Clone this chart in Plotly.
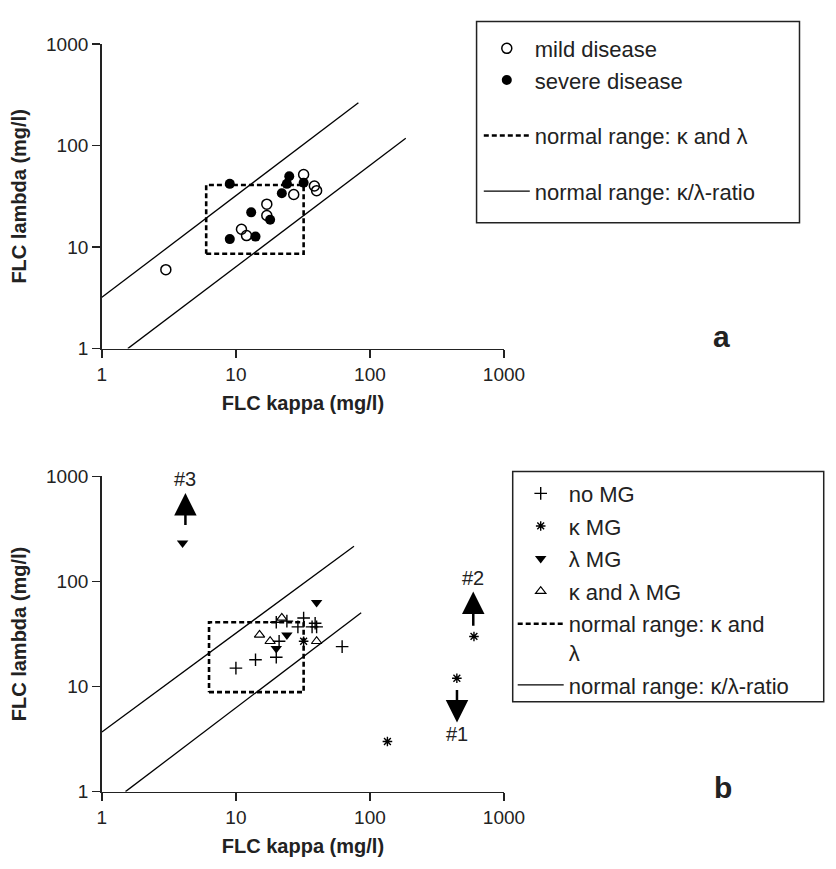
import numpy as np
import plotly.graph_objects as go

# ---------------- data: panel a ----------------
a_mild_kappa = [3, 11, 12, 17, 17, 27, 32, 38.5, 40]
a_mild_lambda = [6, 15, 13, 26.5, 20.5, 33, 52, 40, 36]
a_severe_kappa = [9, 9, 13, 14, 18, 22, 24, 25, 32]
a_severe_lambda = [42, 12, 22, 12.7, 18.6, 34, 42, 50, 43]
a_box_kappa = [6.0, 32.0]
a_box_lambda = [8.6, 41.0]
a_upper_kappa = [1.0, 82.0]
a_upper_lambda = [3.2, 265.0]
a_lower_kappa = [1.56, 185.0]
a_lower_lambda = [1.0, 118.0]

# ---------------- data: panel b ----------------
b_nomg_kappa = [10, 14, 20, 21, 20, 24, 32, 29, 39, 40, 37, 62]
b_nomg_lambda = [15, 18, 19, 27, 41, 42, 45, 37, 40, 37, 37, 24]
b_kmg_kappa = [32, 135, 445, 597]
b_kmg_lambda = [27, 3, 12, 30]
b_lmg_kappa = [4, 20, 24, 40]
b_lmg_lambda = [233, 23, 31, 63]
b_klmg_kappa = [15, 18, 22, 40]
b_klmg_lambda = [31, 27, 45, 27]
b_box_kappa = [6.3, 32.0]
b_box_lambda = [8.85, 41.0]
b_upper_kappa = [1.0, 76.0]
b_upper_lambda = [3.7, 217.0]
b_lower_kappa = [1.5, 86.0]
b_lower_lambda = [1.0, 50.5]

arrow_labels = ["#1", "#2", "#3"]
arrow_kappa = [446, 590, 4.2]
arrow_tail_lambda = [9.6, 36.8, 333]
arrow_tip_lambda = [4.56, 80.5, 694]
arrow_label_lambda = [3.5, 109, 955]

tick_vals = [1, 10, 100, 1000]
tick_text = ["1", "10", "100", "1000"]

FONT = "Liberation Sans, Arial, Helvetica, sans-serif"
INK = "#222"
W, H = 836, 869


def px_x(p):
    return p / W


def px_y(p):
    return 1 - p / H


def box_xy(k, l):
    return [k[0], k[1], k[1], k[0], k[0]], [l[0], l[0], l[1], l[1], l[0]]


def ratio_xy(uk, ul, lk, ll):
    return uk + [None] + lk, ul + [None] + ll


fig = go.Figure()

# ---- panel a ----
bx, by = box_xy(a_box_kappa, a_box_lambda)
rx, ry = ratio_xy(a_upper_kappa, a_upper_lambda, a_lower_kappa, a_lower_lambda)
fig.add_trace(go.Scatter(x=rx, y=ry, mode="lines", name="normal range: κ/λ-ratio",
                         line=dict(color="black", width=1.3), legend="legend",
                         legendrank=4, legendgroup="a3", xaxis="x", yaxis="y"))
fig.add_trace(go.Scatter(x=bx, y=by, mode="lines", name="normal range: κ and λ",
                         line=dict(color="black", width=2.6, dash="5px,3px"), legend="legend",
                         legendrank=3, legendgroup="a2", xaxis="x", yaxis="y"))
fig.add_trace(go.Scatter(x=a_mild_kappa, y=a_mild_lambda, mode="markers", name="mild disease",
                         marker=dict(symbol="circle-open", size=10, color="black", line=dict(width=1.5)),
                         legend="legend", legendrank=1, legendgroup="a1", xaxis="x", yaxis="y"))
fig.add_trace(go.Scatter(x=a_severe_kappa, y=a_severe_lambda, mode="markers", name="severe disease",
                         marker=dict(symbol="circle", size=10, color="black"),
                         legend="legend", legendrank=2, legendgroup="a1", xaxis="x", yaxis="y"))

# ---- panel b ----
bx, by = box_xy(b_box_kappa, b_box_lambda)
rx, ry = ratio_xy(b_upper_kappa, b_upper_lambda, b_lower_kappa, b_lower_lambda)
fig.add_trace(go.Scatter(x=rx, y=ry, mode="lines", name="normal range: κ/λ-ratio",
                         line=dict(color="black", width=1.3), legend="legend2",
                         legendrank=6, legendgroup="b6", xaxis="x2", yaxis="y2"))
fig.add_trace(go.Scatter(x=bx, y=by, mode="lines", name="normal range: κ and<br>λ",
                         line=dict(color="black", width=2.6, dash="5px,3px"), legend="legend2",
                         legendrank=5, legendgroup="b5", xaxis="x2", yaxis="y2"))
fig.add_trace(go.Scatter(x=b_nomg_kappa, y=b_nomg_lambda, mode="markers", name="no MG",
                         marker=dict(symbol="cross-thin-open", size=9, color="black", line=dict(width=1.4, color="black")),
                         legend="legend2", legendrank=1, legendgroup="b1", xaxis="x2", yaxis="y2"))
fig.add_trace(go.Scatter(x=b_kmg_kappa, y=b_kmg_lambda, mode="markers", name="κ MG",
                         marker=dict(symbol="asterisk-open", size=8, color="black", line=dict(width=1.4, color="black")),
                         legend="legend2", legendrank=2, legendgroup="b2", xaxis="x2", yaxis="y2"))
fig.add_trace(go.Scatter(x=b_lmg_kappa, y=b_lmg_lambda, mode="markers", name="λ MG",
                         marker=dict(symbol="triangle-down", size=10, color="black"),
                         legend="legend2", legendrank=3, legendgroup="b3", xaxis="x2", yaxis="y2"))
fig.add_trace(go.Scatter(x=b_klmg_kappa, y=b_klmg_lambda, mode="markers", name="κ and λ MG",
                         marker=dict(symbol="triangle-up-open", size=9, color="black", line=dict(width=1.2)),
                         legend="legend2", legendrank=4, legendgroup="b4", xaxis="x2", yaxis="y2"))

# ---- axes ----
common_axis = dict(type="log", range=[0, 3], showline=True, linecolor=INK, linewidth=1.8,
                   ticks="outside", ticklen=8, tickwidth=1.5, tickcolor=INK,
                   tickvals=tick_vals, ticktext=tick_text, showgrid=False, zeroline=False,
                   tickfont=dict(family=FONT, size=19, color=INK), mirror=False)

xdom = [px_x(100), px_x(515)]
title_font = dict(family=FONT, size=20, color=INK)
fig.update_layout(
    xaxis=dict(common_axis, domain=xdom, anchor="y",
               title=dict(text="<b>FLC kappa (mg/l)</b>", font=title_font, standoff=12)),
    yaxis=dict(common_axis, domain=[px_y(347), px_y(35)], anchor="x",
               title=dict(text="<b>FLC lambda (mg/l)</b>", font=title_font, standoff=14)),
    xaxis2=dict(common_axis, domain=xdom, anchor="y2",
                title=dict(text="<b>FLC kappa (mg/l)</b>", font=title_font, standoff=12)),
    yaxis2=dict(common_axis, domain=[px_y(801), px_y(478)], anchor="x2",
                title=dict(text="<b>FLC lambda (mg/l)</b>", font=title_font, standoff=14)),
)

legend_common = dict(xref="paper", yref="paper", xanchor="left", yanchor="top",
                     borderwidth=0, bgcolor="rgba(0,0,0,0)",
                     font=dict(family=FONT, size=22, color=INK), traceorder="grouped",
                     itemwidth=46, valign="top")
fig.update_layout(
    legend=dict(legend_common, x=px_x(489), y=px_y(18), tracegroupgap=24),
    legend2=dict(legend_common, x=px_x(524), y=px_y(474), tracegroupgap=1),
)

# legend frames
frame = dict(type="rect", xref="paper", yref="paper", line=dict(color=INK, width=1.5),
             fillcolor="rgba(0,0,0,0)", layer="below")
fig.update_layout(shapes=[
    dict(frame, x0=px_x(486.7), x1=px_x(820), y0=px_y(218), y1=px_y(11.7)),
    dict(frame, x0=px_x(524), x1=px_x(845), y0=px_y(709), y1=px_y(473)),
])

# ---- annotations ----
annotations = []
for lab, k, t, tip, ly in zip(arrow_labels, arrow_kappa, arrow_tail_lambda, arrow_tip_lambda, arrow_label_lambda):
    annotations.append(dict(x=np.log10(k), y=np.log10(tip), ax=np.log10(k), ay=np.log10(t),
                            xref="x2", yref="y2", axref="x2", ayref="y2", text="",
                            showarrow=True, arrowhead=2, arrowsize=1.8, arrowwidth=2.5,
                            arrowcolor="black", standoff=0, startstandoff=0))
    annotations.append(dict(x=np.log10(k), y=np.log10(ly), xref="x2", yref="y2", text=lab,
                            xanchor="center", yanchor="middle",
                            showarrow=False, font=dict(family=FONT, size=20, color=INK)))

annotations.append(dict(x=px_x(740), y=px_y(335), xref="paper", yref="paper", text="<b>a</b>",
                        xanchor="center", yanchor="middle",
                        showarrow=False, font=dict(family=FONT, size=30, color=INK)))
annotations.append(dict(x=px_x(741), y=px_y(797), xref="paper", yref="paper", text="<b>b</b>",
                        xanchor="center", yanchor="middle",
                        showarrow=False, font=dict(family=FONT, size=30, color=INK)))

fig.update_layout(
    annotations=annotations,
    width=W, height=H,
    margin=dict(l=0, r=0, t=0, b=0),
    plot_bgcolor="white", paper_bgcolor="white",
    showlegend=True,
    hovermode=False,
    font=dict(family=FONT, color=INK),
)

fig.write_html("out.html",
               config={"displayModeBar": False, "staticPlot": True},
               post_script="document.body.style.margin='0';document.body.style.overflow='hidden';")
